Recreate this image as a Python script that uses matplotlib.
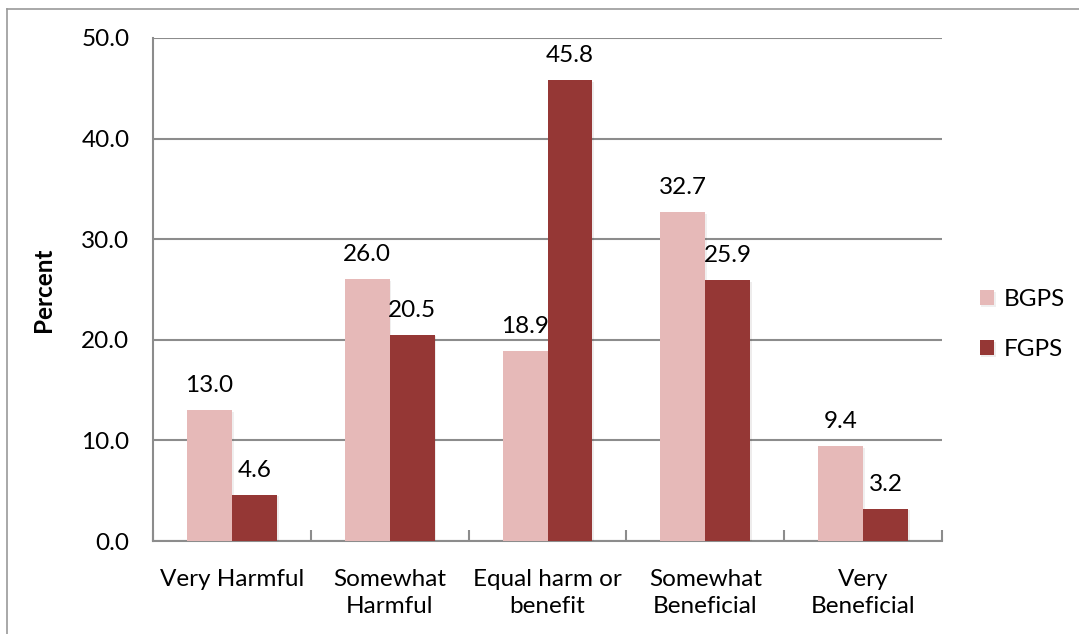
import matplotlib.pyplot as plt
import numpy as np
from matplotlib.lines import Line2D
import matplotlib.patheffects as pe

# --- Data ---
categories = ['Very Harmful', 'Somewhat\nHarmful', 'Equal harm or\nbenefit',
              'Somewhat\nBeneficial', 'Very\nBeneficial']
bgps = [13.0, 26.0, 18.9, 32.7, 9.4]
fgps = [4.6, 20.5, 45.8, 25.9, 3.2]
yticks = [0, 10, 20, 30, 40, 50]

c_bgps = '#E6B9B8'
c_fgps = '#953735'
grid_c = '#8c8c8c'
fs = 17.5

plt.rcParams['font.family'] = ['Lato', 'DejaVu Sans']

fig = plt.figure(figsize=(10.79, 6.34), dpi=100)
ax = fig.add_axes([153 / 1079, 1 - 541 / 634, (942 - 153) / 1079, (541 - 38) / 634])

x = np.arange(len(categories))
w = 0.285
shadow = [pe.SimplePatchShadow(offset=(1.2, -1.2), alpha=0.08), pe.Normal()]
b1 = ax.bar(x - w / 2, bgps, width=w, color=c_bgps, zorder=3, path_effects=shadow, label='BGPS')
b2 = ax.bar(x + w / 2, fgps, width=w, color=c_fgps, zorder=3, path_effects=shadow, label='FGPS')

for bars in (b1, b2):
    for bar in bars:
        h = bar.get_height()
        ax.text(bar.get_x() + bar.get_width() / 2, h + 1.4, f'{h:.1f}',
                ha='center', va='bottom', fontsize=fs, color='black')

ax.set_xlim(-0.5, len(categories) - 0.5)
ax.set_ylim(0, 50)
ax.set_yticks(yticks)
ax.set_yticklabels([f'{v:.1f}' for v in yticks], fontsize=fs)
ax.tick_params(axis='y', length=0, pad=17)

# category labels centred, ticks on category boundaries
ax.set_xticks(x)
ax.set_xticklabels(categories, fontsize=fs, linespacing=1.35)
ax.tick_params(axis='x', length=0, pad=20)
ax.set_xticks(np.arange(len(categories) + 1) - 0.5, minor=True)
ax.tick_params(axis='x', which='minor', direction='in', length=8, color=grid_c, width=1.5)

ax.grid(axis='y', color=grid_c, linewidth=1.5, zorder=0)
for side in ('top', 'right'):
    ax.spines[side].set_visible(False)
for side in ('left', 'bottom'):
    ax.spines[side].set_color(grid_c)
    ax.spines[side].set_linewidth(1.5)

ax.set_ylabel('Percent', fontsize=fs, fontweight='bold', labelpad=19)

ax.legend(loc='center left', bbox_to_anchor=(1.02, 0.43), frameon=False,
          fontsize=fs, handlelength=0.6, handleheight=0.6, labelspacing=1.2,
          handletextpad=0.4)

# outer chart border (top and left visible)
fig.add_artist(Line2D([7 / 1079, 7 / 1079], [0, 1 - 9 / 634], transform=fig.transFigure,
                      color='#999999', linewidth=1.2))
fig.add_artist(Line2D([7 / 1079, 1], [1 - 9 / 634, 1 - 9 / 634], transform=fig.transFigure,
                      color='#999999', linewidth=1.2))

fig.savefig('out.png', dpi=100)
